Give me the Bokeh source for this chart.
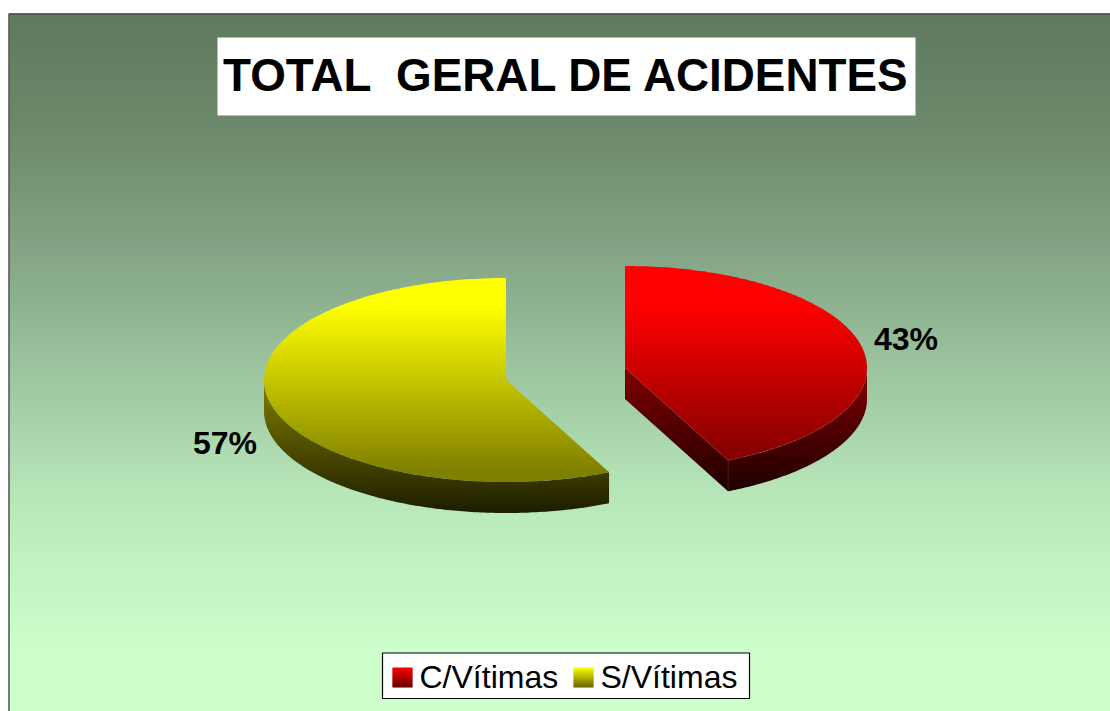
from bokeh.plotting import figure
from bokeh.embed import file_html
from bokeh.resources import INLINE
from bokeh.core.properties import value
from bokeh.models import Range1d
import numpy as np

title_text = "TOTAL \u00a0GERAL DE ACIDENTES"
categories = ["C/Vítimas", "S/Vítimas"]
shares = [43, 57]
labels = ["43%", "57%"]

W, H = 1110, 711
p = figure(width=W, height=H, output_backend="svg", toolbar_location=None,
           x_range=Range1d(0, W), y_range=Range1d(H, 0),
           min_border=0, border_fill_color="white", background_fill_color="white",
           outline_line_color=None, x_axis_location=None, y_axis_location=None)
p.grid.visible = False
FONT = value("Liberation Sans")


def lerp_stops(y, stops):
    ys = [s[0] for s in stops]
    return [float(np.interp(y, ys, [s[1][i] for s in stops])) for i in range(3)]


def rgb(c):
    return "#%02x%02x%02x" % tuple(int(round(v)) for v in c)


def clip(poly, ya, yb):
    def half(pts, inside, yc):
        out = []
        n = len(pts)
        for i in range(n):
            a, b = pts[i], pts[(i + 1) % n]
            ia, ib = inside(a[1]), inside(b[1])
            if ia:
                out.append(a)
            if ia != ib:
                t = (yc - a[1]) / (b[1] - a[1])
                out.append((a[0] + t * (b[0] - a[0]), yc))
        return out
    r = half(poly, lambda y: y >= ya, ya)
    return half(r, lambda y: y <= yb, yb) if r else r


def gradient_patches(polys, stops, step=2):
    """Split polygons into horizontal bands, each one with its own fill."""
    xs, ys, cs = [], [], []
    for poly in polys:
        lo = int(np.floor(min(q[1] for q in poly)))
        hi = int(np.ceil(max(q[1] for q in poly)))
        for y in range(lo, hi, step):
            c = clip(poly, y, y + step + 0.6)
            if len(c) >= 3:
                xs.append([q[0] for q in c])
                ys.append([q[1] for q in c])
                cs.append(rgb(lerp_stops(y + step / 2, stops)))
    p.patches(xs, ys, fill_color=cs, fill_alpha=1.0, line_color=None)


# frame and background
bg_stops = [(14, (95, 122, 95)), (130, (109, 137, 107)), (265, (134, 168, 136)),
            (500, (184, 232, 186)), (650, (204, 255, 204))]
bg_rows = np.arange(14, 712, 2)
p.quad(left=9, right=1111, top=bg_rows, bottom=bg_rows + 2.6,
       fill_color=[rgb(lerp_stops(y + 1, bg_stops)) for y in bg_rows], fill_alpha=1.0, line_color=None)
p.line([8.5, 8.5, 1111], [712, 13.5, 13.5], line_color="#333333", line_width=1.3)

# pie geometry
RX, RY, DEPTH = 242, 102, 31
centers = [(624.5, 367.5), (505.5, 379.5)]
fracs = np.cumsum([0] + shares) / sum(shares) * 2 * np.pi


def arc(c, a0, a1, n=160):
    t = np.linspace(a0, a1, n)
    return [(c[0] + RX * np.sin(v), c[1] - RY * np.cos(v)) for v in t]


def down(pts):
    return [(x, y + DEPTH) for x, y in pts]


# red slice
c0 = centers[0]
a0, a1 = fracs[0], fracs[1]
wall = arc(c0, np.pi / 2, a1)
corner = arc(c0, a1, a1, 1)[0]
cut = [c0, corner]
red_side = [(368, (128, 0, 0)), (492, (30, 0, 0))]
gradient_patches([cut + down(cut)[::-1], wall + down(wall)[::-1]], red_side)
gradient_patches([[c0] + arc(c0, a0, a1)],
                 [(266, (255, 0, 0)), (305, (255, 0, 0)), (461, (128, 0, 0))])
# faint highlight on the slice's edges
edge = [c0, corner] + wall[::-1]
p.line([q[0] for q in edge], [q[1] for q in edge], line_color="#d06060", line_alpha=0.4, line_width=0.7)
p.line([corner[0], corner[0]], [corner[1], corner[1] + DEPTH], line_color="#d06060", line_alpha=0.35, line_width=0.7)

# yellow slice
c1 = centers[1]
a0, a1 = fracs[1], fracs[2]
wall = arc(c1, a0, 3 * np.pi / 2)
gradient_patches([wall + down(wall)[::-1]], [(380, (128, 128, 0)), (513, (28, 28, 0))])
gradient_patches([[c1] + arc(c1, a0, a1)],
                 [(278, (255, 255, 0)), (305, (255, 255, 0)), (470, (128, 128, 0))])

# title
p.quad(left=217, right=915, top=37, bottom=115, fill_color="white", fill_alpha=1.0, line_color=None)
p.text([566.5], [75], text=[title_text], text_font=FONT, text_font_style="bold",
       text_font_size="45.8px", text_align="center", text_baseline="alphabetic", text_color="black")

# data labels
p.text([905.5, 224.5], [338, 442], text=labels, text_font=FONT, text_font_style="bold",
       text_font_size="32px", text_align="center", text_baseline="alphabetic", text_color="black")

# legend
p.quad(left=382, right=749, top=652.5, bottom=698, fill_color="white", fill_alpha=1.0, line_color="black", line_width=1.2)
swatch_x = [392, 573]
swatch_stops = [[(667, (255, 0, 0)), (687, (100, 0, 0))], [(667, (255, 255, 0)), (687, (100, 100, 0))]]
for sx, st in zip(swatch_x, swatch_stops):
    gradient_patches([[(sx, 667), (sx + 20, 667), (sx + 20, 687), (sx, 687)]], st, step=1)
for tx, name in zip([419, 600], categories):
    p.text([tx], [676], text=[name], text_font=FONT, text_font_size="32px",
           text_align="left", text_baseline="alphabetic", text_color="black")

open("out.html", "w").write(file_html(p, INLINE))
